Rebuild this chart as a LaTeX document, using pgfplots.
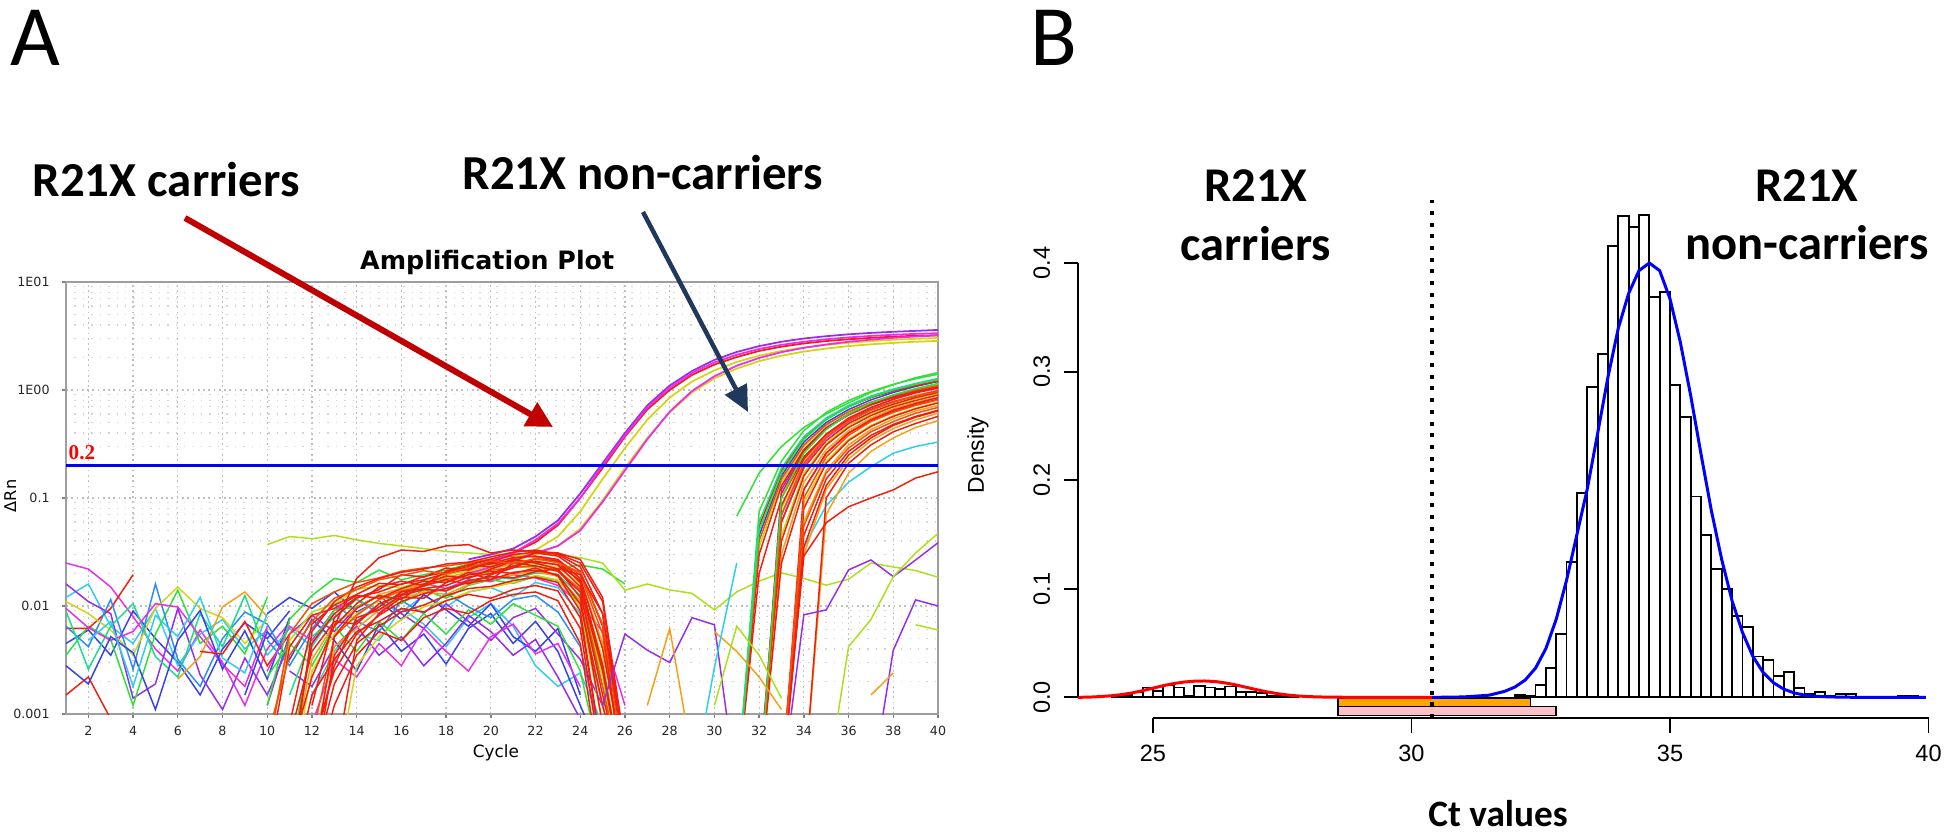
\documentclass[border=0pt]{standalone}
\usepackage{fontspec}
\setmainfont{Carlito}
\newfontfamily\dejavu{DejaVu Sans}
\newfontfamily\lsans{Liberation Sans}
\newfontfamily\lserif{Liberation Serif}
\usepackage{pgfplots}
\pgfplotsset{compat=1.18}
\usetikzlibrary{arrows.meta}

\definecolor{qR}{RGB}{240,30,15}
\definecolor{qRO}{RGB}{245,80,10}
\definecolor{qO}{RGB}{245,160,20}
\definecolor{qY}{RGB}{212,212,20}
\definecolor{qYG}{RGB}{170,225,25}
\definecolor{qG}{RGB}{45,225,55}
\definecolor{qSG}{RGB}{25,220,140}
\definecolor{qC}{RGB}{45,205,235}
\definecolor{qAz}{RGB}{45,140,240}
\definecolor{qB}{RGB}{55,65,235}
\definecolor{qV}{RGB}{150,45,235}
\definecolor{qM}{RGB}{235,45,235}
\definecolor{arrowred}{RGB}{192,0,0}
\definecolor{navyarrow}{RGB}{32,56,92}
\definecolor{boxorange}{RGB}{255,165,0}
\definecolor{boxpink}{RGB}{255,192,203}

\pgfplotsset{
  pR/.style={draw=qR, line width=0.42pt},
  pRO/.style={draw=qRO, line width=0.42pt},
  pO/.style={draw=qO, line width=0.42pt},
  pY/.style={draw=qY, line width=0.42pt},
  pYG/.style={draw=qYG, line width=0.42pt},
  pG/.style={draw=qG, line width=0.42pt},
  pSG/.style={draw=qSG, line width=0.42pt},
  pC/.style={draw=qC, line width=0.42pt},
  pAz/.style={draw=qAz, line width=0.42pt},
  pB/.style={draw=qB, line width=0.42pt},
  pV/.style={draw=qV, line width=0.42pt},
  pM/.style={draw=qM, line width=0.42pt},
}

\begin{document}
\begin{tikzpicture}
\path[use as bounding box] (0,0) rectangle (19.46,8.34);

% ================= Panel A =================
\begin{axis}[
  at={(0.66cm,1.20cm)}, anchor=south west,
  width=87.2mm, height=43.2mm, scale only axis,
  xmin=1, xmax=40, ymin=0.001, ymax=10, ymode=log,
  xtick={2,4,...,40},
  xticklabels={2,4,6,8,10,12,14,16,18,20,22,24,26,28,30,32,34,36,38,40},
  ytick={0.001,0.01,0.1,1,10},
  yticklabels={0.001,0.01,0.1,1E00,1E01},
  minor ytick={0.002,0.003,0.004,0.005,0.006,0.007,0.008,0.009,
    0.02,0.03,0.04,0.05,0.06,0.07,0.08,0.09,
    0.2,0.3,0.4,0.5,0.6,0.7,0.8,0.9,
    2,3,4,5,6,7,8,9},
  xmajorgrids, ymajorgrids, yminorgrids,
  major grid style={dashed, dash pattern=on 0.5pt off 1pt, black!25, line width=0.35pt},
  minor grid style={dotted, black!17, line width=0.3pt},
  axis line style={black!38, line width=0.6pt},
  tick align=outside, xtick pos=left, ytick pos=left,
  major tick length=0.4mm, minor tick length=0pt,
  tick style={black!50, line width=0.4pt},
  ticklabel style={font=\dejavu\fontsize{3.6}{4}\selectfont, text=black!85},
  xticklabel style={yshift=1.2pt},
  xlabel={Cycle},
  xlabel style={at={(axis description cs:0.493,-0.09)}, anchor=center, font=\dejavu\fontsize{4.8}{5}\selectfont},
  ylabel={ΔRn},
  ylabel style={at={(axis description cs:-0.064,0.505)}, anchor=center, font=\dejavu\fontsize{4.6}{5}\selectfont},
  every axis title shift=0pt,
  title={Amplification Plot},
  title style={at={(axis description cs:0.483,1.046)}, anchor=center, font=\dejavu\bfseries\fontsize{7.2}{8}\selectfont},
]
% ---- early noise, cycles 1-11
\addplot[pM] coordinates {(1,0.025)(2,0.022)(3,0.015)(4,0.008)(5,0.004)(6,0.0025)(7,0.006)(8,0.003)(9,0.0012)(10,0.004)(11,0.007)};
\addplot[pB] coordinates {(1,0.0045)(2,0.006)(3,0.0035)(4,0.009)(5,0.005)(6,0.003)(7,0.0015)(8,0.004)(9,0.007)(10,0.005)(11,0.009)};
\addplot[pC] coordinates {(1,0.012)(2,0.016)(3,0.0065)(4,0.0045)(5,0.0095)(6,0.0028)(7,0.0055)(8,0.0075)(9,0.004)(10,0.006)};
\addplot[pV] coordinates {(1,0.016)(2,0.011)(3,0.0085)(4,0.0014)(5,0.0019)(6,0.0095)(7,0.0023)(8,0.0011)(9,0.0033)(10,0.0015)(11,0.0045)};
\addplot[pG] coordinates {(1,0.0035)(2,0.0065)(3,0.0049)(4,0.0012)(5,0.0055)(6,0.014)(7,0.0045)(8,0.0065)(9,0.0036)(10,0.012)};
\addplot[pR] coordinates {(1,0.0062)(2,0.0062)(3,0.0095)(4,0.0195)};
\addplot[pR] coordinates {(1,0.0015)(2,0.0022)(3,0.0009)};
\addplot[pAz] coordinates {(1,0.0065)(2,0.0042)(3,0.0115)(4,0.0026)(5,0.016)(6,0.0032)(7,0.0018)(8,0.005)(9,0.0088)(10,0.0068)(11,0.003)};
\addplot[pY] coordinates {(1,0.011)(2,0.0085)(3,0.006)(4,0.0035)(5,0.0095)(6,0.015)(7,0.0095)(8,0.0078)(9,0.0045)(10,0.0075)};
\addplot[pSG] coordinates {(1,0.009)(2,0.0026)(3,0.0065)(4,0.0105)(5,0.0034)(6,0.0022)(7,0.0085)(8,0.0042)(9,0.0125)(10,0.0035)};
\addplot[pM] coordinates {(1,0.0095)(2,0.0063)(3,0.0048)(4,0.0058)(5,0.0105)(6,0.0098)(7,0.0052)(8,0.0029)(9,0.0018)(10,0.0065)};
\addplot[pO] coordinates {(6,0.0021)(7,0.0034)(8,0.0098)(9,0.0135)(10,0.008)};
\addplot[pB] coordinates {(1,0.0028)(2,0.0019)(3,0.0052)(4,0.0037)(5,0.0011)(6,0.0048)(7,0.0091)(8,0.0026)(9,0.0059)(10,0.0021)(11,0.0078)};
\addplot[pC] coordinates {(2,0.0048)(3,0.0072)(4,0.0018)(5,0.0082)(6,0.0052)(7,0.012)(8,0.0033)(9,0.0024)(10,0.0085)};
\addplot[pR] coordinates {(7,0.0038)(8,0.0036)(9,0.0072)(10,0.0028)(11,0.0055)};
% ---- hump, low zigzag colours
\addplot[pC] coordinates {(10,0.0035)(11,0.0062)(12,0.0042)(13,0.0085)(14,0.0055)(15,0.0048)(16,0.0095)(17,0.0068)(18,0.0042)(19,0.0078)(20,0.0105)(21,0.0065)(22,0.0028)(23,0.0018)(24,0.0024)(25,0.0008)};
\addplot[pC] coordinates {(12,0.0015)(13,0.0038)(14,0.0072)(15,0.0105)(16,0.0088)(17,0.0125)(18,0.0098)(19,0.0135)(20,0.0148)(21,0.0122)(22,0.0165)(23,0.0148)(24,0.0085)(25,0.0012)};
\addplot[pB] coordinates {(9,0.0015)(10,0.0058)(11,0.0032)(12,0.0075)(13,0.0048)(14,0.0025)(15,0.0068)(16,0.0038)(17,0.0055)(18,0.0029)(19,0.0062)(20,0.0085)(21,0.0045)(22,0.0072)(23,0.0038)(24,0.0012)(25,0.0004)};
\addplot[pB] coordinates {(10,0.0085)(11,0.012)(12,0.0095)(13,0.0135)(14,0.0088)(15,0.0112)(16,0.0075)(17,0.0128)(18,0.0092)(19,0.0065)(20,0.0105)(21,0.0052)(22,0.0038)(23,0.0062)(24,0.0015)};
\addplot[pV] coordinates {(10,0.0012)(11,0.0055)(12,0.0082)(13,0.0058)(14,0.0098)(15,0.0125)(16,0.0085)(17,0.0062)(18,0.0105)(19,0.0072)(20,0.0048)(21,0.0078)(22,0.0095)(23,0.0055)(24,0.0032)(25,0.0012)};
\addplot[pV] coordinates {(11,0.0025)(12,0.0018)(13,0.0042)(14,0.0065)(15,0.0035)(16,0.0052)(17,0.0028)(18,0.0045)(19,0.0082)(20,0.0058)(21,0.0035)(22,0.0049)(23,0.0022)(24,0.0009)};
\addplot[pAz] coordinates {(10,0.0048)(11,0.0028)(12,0.0062)(13,0.0105)(14,0.0072)(15,0.0058)(16,0.0112)(17,0.0085)(18,0.0132)(19,0.0098)(20,0.0078)(21,0.0115)(22,0.0125)(23,0.0088)(24,0.0042)(25,0.0005)};
\addplot[pM] coordinates {(10,0.0025)(11,0.0065)(12,0.0048)(13,0.0092)(14,0.0115)(15,0.0085)(16,0.0135)(17,0.0162)(18,0.0145)(19,0.0175)(20,0.0168)(21,0.0195)(22,0.0182)(23,0.0155)(24,0.0105)(25,0.0058)(26,0.0012)};
\addplot[pM] coordinates {(12,0.0008)(13,0.0032)(14,0.0022)(15,0.0045)(16,0.0028)(17,0.0062)(18,0.0038)(19,0.0025)(20,0.0052)(21,0.0068)(22,0.0036)(23,0.0045)(24,0.0018)};
% ---- hump, greens / yellows / oranges
\addplot[pG] coordinates {(10,0.0012)(11,0.0075)(12,0.0125)(13,0.018)(14,0.0165)(15,0.0215)(16,0.0175)(17,0.0195)(18,0.0215)(19,0.0245)(20,0.0235)(21,0.026)(22,0.0245)(23,0.0225)(24,0.024)(25,0.022)(26,0.016)};
\addplot[pG] coordinates {(11,0.0004)(12,0.0045)(13,0.0092)(14,0.0098)(15,0.0125)(16,0.0105)(17,0.0142)(18,0.0118)(19,0.0155)(20,0.0175)(21,0.0162)(22,0.0188)(23,0.0172)(24,0.0105)(25,0.0018)(26,0.0002)};
\addplot[pG] coordinates {(10,0.0022)(11,0.0045)(12,0.0028)(13,0.0065)(14,0.0038)(15,0.0072)(16,0.0048)(17,0.0085)(18,0.0055)(19,0.0092)(20,0.0068)(21,0.0105)(22,0.0082)(23,0.0065)(24,0.0025)(25,0.0003)};
\addplot[pSG] coordinates {(11,0.0015)(12,0.0052)(13,0.0078)(14,0.0115)(15,0.0092)(16,0.0128)(17,0.0145)(18,0.0138)(19,0.0168)(20,0.0185)(21,0.0178)(22,0.0202)(23,0.0195)(24,0.0125)(25,0.0022)(26,0.0003)};
\addplot[pYG] coordinates {(10,0.0005)(11,0.0048)(12,0.0088)(13,0.0105)(14,0.0142)(15,0.0155)(16,0.0148)(17,0.0172)(18,0.0195)(19,0.0212)(20,0.0198)(21,0.023)(22,0.0225)(23,0.021)(24,0.0138)(25,0.0022)(26,0.0002)};
\addplot[pYG] coordinates {(10,0.037)(11,0.044)(12,0.042)(13,0.045)(14,0.041)(15,0.038)(16,0.036)(17,0.034)(18,0.032)(19,0.031)(20,0.03)(21,0.03)(22,0.031)(23,0.03)(24,0.028)(25,0.025)(26,0.014)(27,0.016)(28,0.0141)(29,0.0131)(30,0.0092)(31,0.0135)(32,0.017)(33,0.0203)(34,0.018)(35,0.0156)(36,0.0177)(37,0.025)(38,0.023)(39,0.0213)(40,0.0185)};
\addplot[pY] coordinates {(11,0.0002)(12,0.0025)(13,0.0055)(14,0.0085)(15,0.0112)(16,0.0142)(17,0.0152)(18,0.0172)(19,0.0195)(20,0.0205)(21,0.0235)(22,0.0248)(23,0.0228)(24,0.016)(25,0.0032)(26,0.0002)};
\addplot[pY] coordinates {(13,0.0002)(14,0.0028)(15,0.0052)(16,0.0075)(17,0.0098)(18,0.0112)(19,0.0135)(20,0.0148)(21,0.0165)(22,0.0192)(23,0.0175)(24,0.0098)(25,0.0008)};
\addplot[pO] coordinates {(11,0.0003)(12,0.0032)(13,0.0068)(14,0.0095)(15,0.0128)(16,0.0145)(17,0.016)(18,0.0185)(19,0.0205)(20,0.022)(21,0.0245)(22,0.027)(23,0.0255)(24,0.018)(25,0.0045)(26,0.0003)};
\addplot[pO] coordinates {(12,0.0004)(13,0.0042)(14,0.0062)(15,0.0092)(16,0.0118)(17,0.0135)(18,0.0128)(19,0.0158)(20,0.0178)(21,0.0195)(22,0.021)(23,0.0188)(24,0.0112)(25,0.0012)(26,0.0002)};
\addplot[pRO] coordinates {(12,0.0006)(13,0.0052)(14,0.0082)(15,0.0115)(16,0.0138)(17,0.0152)(18,0.0178)(19,0.0192)(20,0.0215)(21,0.0228)(22,0.0235)(23,0.0215)(24,0.0142)(25,0.0018)(26,0.0002)};
\addplot[pRO] coordinates {(10,0.0004)(11,0.0055)(12,0.0105)(13,0.0135)(14,0.0165)(15,0.0182)(16,0.021)(17,0.0225)(18,0.0235)(19,0.025)(20,0.0272)(21,0.029)(22,0.0285)(23,0.0265)(24,0.0195)(25,0.0055)(26,0.0002)};
% ---- carriers (rise out of the bundle)
\addplot[pV, line width=0.5pt] coordinates {(19,0.027)(20,0.03)(21,0.034)(22,0.044)(23,0.062)(24,0.11)(25,0.21)(26,0.4)(27,0.72)(28,1.1)(29,1.5)(30,1.9)(31,2.25)(32,2.55)(33,2.8)(34,3.0)(35,3.15)(36,3.28)(37,3.38)(38,3.46)(39,3.53)(40,3.6)};
\addplot[pR, line width=0.5pt] coordinates {(19,0.024)(20,0.027)(21,0.031)(22,0.039)(23,0.056)(24,0.1)(25,0.19)(26,0.37)(27,0.66)(28,1.0)(29,1.38)(30,1.72)(31,2.02)(32,2.3)(33,2.52)(34,2.7)(35,2.84)(36,2.95)(37,3.04)(38,3.12)(39,3.18)(40,3.22)};
\addplot[pM, line width=0.5pt] coordinates {(19,0.022)(20,0.026)(21,0.031)(22,0.041)(23,0.058)(24,0.1)(25,0.2)(26,0.38)(27,0.69)(28,1.05)(29,1.44)(30,1.8)(31,2.12)(32,2.4)(33,2.62)(34,2.8)(35,2.95)(36,3.07)(37,3.17)(38,3.25)(39,3.31)(40,3.36)};
\addplot[pY, line width=0.5pt] coordinates {(19,0.021)(20,0.024)(21,0.028)(22,0.033)(23,0.044)(24,0.075)(25,0.15)(26,0.29)(27,0.53)(28,0.85)(29,1.2)(30,1.52)(31,1.82)(32,2.08)(33,2.3)(34,2.47)(35,2.62)(36,2.74)(37,2.84)(38,2.92)(39,2.98)(40,3.03)};
\addplot[pY, line width=0.5pt] coordinates {(19,0.019)(20,0.022)(21,0.026)(22,0.03)(23,0.036)(24,0.052)(25,0.095)(26,0.19)(27,0.36)(28,0.62)(29,0.95)(30,1.28)(31,1.58)(32,1.85)(33,2.08)(34,2.27)(35,2.42)(36,2.55)(37,2.65)(38,2.73)(39,2.8)(40,2.85)};
\addplot[pM, line width=0.5pt] coordinates {(19,0.02)(20,0.023)(21,0.027)(22,0.031)(23,0.036)(24,0.05)(25,0.092)(26,0.18)(27,0.35)(28,0.63)(29,0.98)(30,1.34)(31,1.68)(32,1.98)(33,2.24)(34,2.46)(35,2.64)(36,2.8)(37,2.93)(38,3.04)(39,3.13)(40,3.2)};
% ---- hump, reds on top
\addplot[pR] coordinates {(11,0.0003)(12,0.0045)(13,0.0085)(14,0.012)(15,0.0135)(16,0.016)(17,0.0175)(18,0.02)(19,0.022)(20,0.025)(21,0.028)(22,0.029)(23,0.027)(24,0.018)(25,0.004)(26,0.0003)};
\addplot[pR] coordinates {(12,0.0003)(13,0.0052)(14,0.0095)(15,0.0125)(16,0.0115)(17,0.016)(18,0.019)(19,0.018)(20,0.022)(21,0.026)(22,0.031)(23,0.029)(24,0.021)(25,0.0065)(26,0.0002)};
\addplot[pR] coordinates {(11,0.0004)(12,0.0022)(13,0.0065)(14,0.0105)(15,0.015)(16,0.017)(17,0.0155)(18,0.021)(19,0.024)(20,0.023)(21,0.027)(22,0.025)(23,0.022)(24,0.012)(25,0.0008)(26,0.0002)};
\addplot[pR] coordinates {(12,0.0002)(13,0.0035)(14,0.0072)(15,0.0098)(16,0.0135)(17,0.0145)(18,0.0155)(19,0.0185)(20,0.02)(21,0.0235)(22,0.026)(23,0.024)(24,0.015)(25,0.0025)(26,0.0002)};
\addplot[pR] coordinates {(10,0.0003)(11,0.0042)(12,0.0082)(13,0.0095)(14,0.0125)(15,0.0118)(16,0.0145)(17,0.017)(18,0.0165)(19,0.0195)(20,0.021)(21,0.02)(22,0.0225)(23,0.019)(24,0.009)(25,0.0004)};
\addplot[pR] coordinates {(12,0.0005)(13,0.0025)(14,0.0055)(15,0.0082)(16,0.011)(17,0.013)(18,0.0145)(19,0.0165)(20,0.0175)(21,0.0205)(22,0.0215)(23,0.0195)(24,0.0105)(25,0.0012)(26,0.0002)};
\addplot[pR] coordinates {(11,0.0002)(12,0.0058)(13,0.011)(14,0.015)(15,0.018)(16,0.0205)(17,0.022)(18,0.0245)(19,0.0255)(20,0.0285)(21,0.0315)(22,0.033)(23,0.03)(24,0.023)(25,0.0085)(26,0.0003)};
\addplot[pR] coordinates {(13,0.0003)(14,0.0048)(15,0.0085)(16,0.012)(17,0.0118)(18,0.0165)(19,0.0205)(20,0.0175)(21,0.025)(22,0.0235)(23,0.021)(24,0.0135)(25,0.0015)(26,0.0002)};
\addplot[pR] coordinates {(11,0.0006)(12,0.0038)(13,0.0072)(14,0.0068)(15,0.0105)(16,0.0128)(17,0.0155)(18,0.0175)(19,0.016)(20,0.0195)(21,0.0225)(22,0.0275)(23,0.026)(24,0.0165)(25,0.0028)(26,0.0002)};
\addplot[pR] coordinates {(12,0.0003)(13,0.0019)(14,0.0045)(15,0.0065)(16,0.0088)(17,0.0102)(18,0.0125)(19,0.0145)(20,0.0152)(21,0.0172)(22,0.0185)(23,0.0165)(24,0.0078)(25,0.0004)};
\addplot[pR] coordinates {(12,0.0012)(13,0.0078)(14,0.0118)(15,0.0142)(16,0.0195)(17,0.0185)(18,0.0225)(19,0.0215)(20,0.0255)(21,0.03)(22,0.0315)(23,0.0305)(24,0.025)(25,0.011)(26,0.0004)};
\addplot[pR] coordinates {(13,0.0065)(14,0.018)(15,0.028)(16,0.033)(17,0.032)(18,0.036)(19,0.037)(20,0.031)(21,0.033)(22,0.032)(23,0.031)(24,0.027)(25,0.012)(26,0.0005)};
\addplot[pR] coordinates {(11,0.0002)(12,0.0015)(13,0.0032)(14,0.0058)(15,0.0072)(16,0.0095)(17,0.0088)(18,0.0112)(19,0.0128)(20,0.0118)(21,0.0142)(22,0.0155)(23,0.0138)(24,0.0062)(25,0.0003)};
\addplot[pR] coordinates {(12,0.0002)(13,0.0012)(14,0.0035)(15,0.0058)(16,0.0048)(17,0.0078)(18,0.0095)(19,0.0085)(20,0.0112)(21,0.0128)(22,0.0135)(23,0.0112)(24,0.0045)(25,0.0002)};
\addplot[pR] coordinates {(11,0.0008)(12,0.0068)(13,0.0102)(14,0.0128)(15,0.0162)(16,0.0158)(17,0.0188)(18,0.0205)(19,0.0232)(20,0.0245)(21,0.0265)(22,0.0255)(23,0.0242)(24,0.0172)(25,0.0028)(26,0.0002)};
\addplot[pRO] coordinates {(10,0.0006)(11,0.0035)(12,0.0072)(13,0.0118)(14,0.0142)(15,0.0175)(16,0.0192)(17,0.0212)(18,0.0198)(19,0.0228)(20,0.0262)(21,0.0248)(22,0.0275)(23,0.0252)(24,0.0205)(25,0.0068)(26,0.0003)};
\addplot[pR] coordinates {(12,0.0004)(13,0.0028)(14,0.0078)(15,0.0092)(16,0.0125)(17,0.0142)(18,0.0138)(19,0.0172)(20,0.0188)(21,0.0182)(22,0.0208)(23,0.0222)(24,0.0195)(25,0.0085)(26,0.0004)};
% ---- late amplification, non-carriers
\addplot[pB] coordinates {(31,0.0002)(32,0.045)(33,0.16)(34,0.33)(35,0.5)(36,0.66)(37,0.81)(38,0.95)(39,1.08)(40,1.2)};
\addplot[pAz] coordinates {(32,0.0002)(33,0.07)(34,0.21)(35,0.37)(36,0.53)(37,0.68)(38,0.82)(39,0.95)(40,1.07)};
\addplot[pV] coordinates {(32,0.0002)(33,0.12)(34,0.28)(35,0.45)(36,0.6)(37,0.74)(38,0.87)(39,0.98)(40,1.08)};
\addplot[pM] coordinates {(32,0.0003)(33,0.06)(34,0.2)(35,0.36)(36,0.51)(37,0.65)(38,0.78)(39,0.89)(40,0.99)};
\addplot[pC] coordinates {(33,0.0002)(34,0.035)(35,0.085)(36,0.14)(37,0.195)(38,0.26)(39,0.3)(40,0.33)};
\addplot[pYG] coordinates {(31,0.0002)(32,0.035)(33,0.14)(34,0.3)(35,0.47)(36,0.63)(37,0.77)(38,0.9)(39,1.02)(40,1.13)};
\addplot[pYG] coordinates {(32,0.0002)(33,0.045)(34,0.17)(35,0.32)(36,0.47)(37,0.6)(38,0.72)(39,0.83)(40,0.93)};
\addplot[pY] coordinates {(32,0.0002)(33,0.08)(34,0.22)(35,0.38)(36,0.53)(37,0.66)(38,0.78)(39,0.89)(40,0.98)};
\addplot[pY] coordinates {(33,0.0002)(34,0.09)(35,0.22)(36,0.35)(37,0.47)(38,0.58)(39,0.68)(40,0.77)};
\addplot[pO] coordinates {(32,0.0002)(33,0.03)(34,0.14)(35,0.28)(36,0.42)(37,0.55)(38,0.67)(39,0.77)(40,0.86)};
\addplot[pO] coordinates {(33,0.0002)(34,0.06)(35,0.18)(36,0.31)(37,0.43)(38,0.54)(39,0.64)(40,0.72)};
\addplot[pO] coordinates {(33,0.0003)(34,0.03)(35,0.12)(36,0.23)(37,0.34)(38,0.44)(39,0.53)(40,0.61)};
\addplot[pO] coordinates {(34,0.0002)(35,0.07)(36,0.17)(37,0.27)(38,0.36)(39,0.45)(40,0.52)};
\addplot[pR] coordinates {(31,0.0002)(32,0.055)(33,0.18)(34,0.36)(35,0.54)(36,0.7)(37,0.85)(38,0.98)(39,1.1)(40,1.21)};
\addplot[pR] coordinates {(31,0.0002)(32,0.03)(33,0.13)(34,0.28)(35,0.44)(36,0.59)(37,0.73)(38,0.85)(39,0.96)(40,1.06)};
\addplot[pR] coordinates {(32,0.0002)(33,0.085)(34,0.23)(35,0.39)(36,0.55)(37,0.69)(38,0.82)(39,0.94)(40,1.04)};
\addplot[pR] coordinates {(32,0.0002)(33,0.06)(34,0.19)(35,0.34)(36,0.49)(37,0.62)(38,0.74)(39,0.85)(40,0.95)};
\addplot[pR] coordinates {(32,0.0003)(33,0.04)(34,0.16)(35,0.31)(36,0.45)(37,0.58)(38,0.7)(39,0.8)(40,0.9)};
\addplot[pR] coordinates {(32,0.0002)(33,0.11)(34,0.27)(35,0.44)(36,0.59)(37,0.73)(38,0.86)(39,0.97)(40,1.07)};
\addplot[pR] coordinates {(33,0.0002)(34,0.12)(35,0.26)(36,0.4)(37,0.52)(38,0.63)(39,0.73)(40,0.82)};
\addplot[pR] coordinates {(33,0.0002)(34,0.08)(35,0.21)(36,0.34)(37,0.46)(38,0.57)(39,0.67)(40,0.76)};
\addplot[pR] coordinates {(33,0.0003)(34,0.045)(35,0.15)(36,0.27)(37,0.38)(38,0.48)(39,0.57)(40,0.65)};
\addplot[pR] coordinates {(31,0.0002)(32,0.02)(33,0.1)(34,0.24)(35,0.39)(36,0.53)(37,0.66)(38,0.78)(39,0.88)(40,0.98)};
\addplot[pR] coordinates {(32,0.0002)(33,0.025)(34,0.12)(35,0.26)(36,0.4)(37,0.53)(38,0.65)(39,0.75)(40,0.85)};
\addplot[pR] coordinates {(33,0.0002)(34,0.035)(35,0.13)(36,0.25)(37,0.36)(38,0.47)(39,0.56)(40,0.64)};
\addplot[pR] coordinates {(34,0.0002)(35,0.1)(36,0.21)(37,0.31)(38,0.41)(39,0.49)(40,0.57)};
\addplot[pR] coordinates {(33,0.0002)(34,0.029)(35,0.059)(36,0.083)(37,0.1)(38,0.119)(39,0.153)(40,0.175)};
\addplot[pRO] coordinates {(32,0.0002)(33,0.07)(34,0.21)(35,0.37)(36,0.52)(37,0.65)(38,0.77)(39,0.88)(40,0.97)};
\addplot[pRO] coordinates {(33,0.0002)(34,0.1)(35,0.24)(36,0.38)(37,0.51)(38,0.62)(39,0.72)(40,0.81)};
\addplot[pRO] coordinates {(31,0.0002)(32,0.04)(33,0.15)(34,0.31)(35,0.48)(36,0.63)(37,0.77)(38,0.89)(39,1.0)(40,1.1)};
\addplot[pRO] coordinates {(33,0.0003)(34,0.055)(35,0.17)(36,0.29)(37,0.41)(38,0.51)(39,0.61)(40,0.69)};
\addplot[pG] coordinates {(31,0.068)(32,0.17)(33,0.3)(34,0.45)(35,0.6)(36,0.76)(37,0.95)(38,1.12)(39,1.3)(40,1.45)};
\addplot[pG] coordinates {(31,0.0002)(32,0.075)(33,0.22)(34,0.42)(35,0.62)(36,0.8)(37,0.97)(38,1.13)(39,1.27)(40,1.4)};
\addplot[pG] coordinates {(31,0.0002)(32,0.05)(33,0.17)(34,0.35)(35,0.53)(36,0.7)(37,0.86)(38,1.0)(39,1.13)(40,1.25)};
\addplot[pG] coordinates {(32,0.0002)(33,0.1)(34,0.26)(35,0.43)(36,0.6)(37,0.76)(38,0.9)(39,1.03)(40,1.15)};
\addplot[pSG] coordinates {(31,0.0002)(32,0.06)(33,0.19)(34,0.37)(35,0.55)(36,0.72)(37,0.88)(38,1.02)(39,1.15)(40,1.28)};
% ---- late noise
\addplot[pV] coordinates {(25,0.0012)(26,0.0055)(27,0.0039)(28,0.003)(29,0.0078)(30,0.0067)(31,0.0002)};
\addplot[pV] coordinates {(33,0.0002)(34,0.0083)(35,0.0092)(36,0.0216)(37,0.0267)(38,0.0187)(39,0.0267)(40,0.0385)};
\addplot[pV] coordinates {(37,0.0002)(38,0.0039)(39,0.0114)(40,0.01)};
\addplot[pYG] coordinates {(35,0.0002)(36,0.0042)(37,0.0075)(38,0.0187)(39,0.031)(40,0.047)};
\addplot[pYG] coordinates {(39,0.0067)(40,0.006)};
\addplot[pO] coordinates {(37,0.0015)(38,0.0024)};
\addplot[pO] coordinates {(27,0.0012)(28,0.0062)(29,0.0004)};
\addplot[pO] coordinates {(30,0.0058)(31,0.0038)(32,0.0022)(33,0.0011)};
\addplot[pYG] coordinates {(30,0.0012)(31,0.0065)(32,0.0035)(33,0.0014)};
\addplot[pC] coordinates {(29,0.0002)(30,0.0027)(31,0.025)};
% ---- threshold
\addplot[draw=blue, line width=1.1pt] coordinates {(1,0.2)(40,0.2)};
\node[anchor=base west, inner sep=0, text=red, font=\lserif\bfseries\fontsize{6}{7}\selectfont] at (axis cs:1.09,0.225) {0.2};
\end{axis}

% arrows and big labels
\draw[line width=0.6mm, color=arrowred, -{Triangle[length=2.6mm,width=2.6mm]}] (1.85,6.16) -- (5.53,4.07);
\draw[line width=0.45mm, color=navyarrow, -{Triangle[length=2.6mm,width=2.4mm]}] (6.43,6.22) -- (7.48,4.22);
\node[anchor=base west, inner sep=0, font=\fontsize{24.5}{26}\selectfont] at (0.10,7.68) {A};
\node[anchor=base west, inner sep=0, font=\fontsize{24.5}{26}\selectfont] at (10.30,7.68) {B};
\node[anchor=base west, inner sep=0, font=\bfseries\fontsize{13.9}{16}\selectfont] at (0.32,6.37) {R21X carriers};
\node[anchor=base west, inner sep=0, font=\bfseries\fontsize{13.9}{16}\selectfont] at (4.62,6.44) {R21X non-carriers};
\node[anchor=base, inner sep=0, font=\bfseries\fontsize{13.8}{16}\selectfont] at (12.56,6.32) {R21X};
\node[anchor=base, inner sep=0, font=\bfseries\fontsize{13.8}{16}\selectfont] at (12.56,5.73) {carriers};
\node[anchor=base, inner sep=0, font=\bfseries\fontsize{13.8}{16}\selectfont] at (18.07,6.32) {R21X};
\node[anchor=base, inner sep=0, font=\bfseries\fontsize{13.8}{16}\selectfont] at (18.07,5.74) {non-carriers};

% ================= Panel B =================
\begin{axis}[
  at={(10.78cm,1.16cm)}, anchor=south west,
  width=86.6mm, height=52.34mm, scale only axis,
  xmin=23.55, xmax=40.3, ymin=-0.019, ymax=0.463,
  clip=false,
  axis x line*=bottom, axis y line*=left,
  axis line style={draw=none, -},
  xtick={25,30,35,40}, xticklabels={25,30,35,40},
  ytick={0,0.1,0.2,0.3,0.4}, yticklabels={0.0,0.1,0.2,0.3,0.4},
  tick align=outside, major tick length=1.45mm,
  tick style={black, line width=0.55pt},
  ticklabel style={font=\lsans\fontsize{6.7}{8}\selectfont},
  yticklabel style={xshift=-0.1mm, rotate=90, anchor=south},
  xlabel={Ct values},
  xlabel style={at={(axis description cs:0.485,-0.183)}, anchor=center, font=\bfseries\fontsize{10.6}{12}\selectfont},
  ylabel={Density},
  ylabel style={at={(axis description cs:-0.1155,0.5025)}, anchor=center, font=\lsans\fontsize{6.5}{8}\selectfont},
]
\addplot[ybar interval, fill=white, draw=black, line width=0.5pt] coordinates {
 (24.2,0.0013)(24.4,0.0025)(24.6,0.0045)(24.8,0.009)(25.0,0.006)(25.2,0.011)(25.4,0.009)(25.6,0.0014)
 (25.8,0.0103)(26.0,0.009)(26.2,0.0076)(26.4,0.01)(26.6,0.005)(26.8,0.0046)(27.0,0.004)(27.2,0.0015)
 (27.4,0.002)(27.6,0.001)(27.8,0)};
\addplot[ybar interval, fill=white, draw=black, line width=0.5pt] coordinates {
 (32.0,0.0025)(32.2,0.001)(32.4,0.0112)(32.6,0.027)(32.8,0.0585)(33.0,0.125)(33.2,0.188)(33.4,0.286)
 (33.6,0.316)(33.8,0.416)(34.0,0.443)(34.2,0.433)(34.4,0.444)(34.6,0.3685)(34.8,0.373)(35.0,0.288)
 (35.2,0.258)(35.4,0.185)(35.6,0.1496)(35.8,0.1184)(36.0,0.0999)(36.2,0.0746)(36.4,0.0649)(36.6,0.0376)
 (36.8,0.0341)(37.0,0.0195)(37.2,0.0233)(37.4,0.0089)(37.6,0.0034)(37.8,0.0049)(38.0,0.0015)(38.2,0.003)
 (38.4,0.003)(38.6,0)(38.8,0)(39.0,0)(39.2,0)(39.4,0.0015)(39.6,0.0015)(39.8,0)};
\addplot[draw=black, fill=boxorange, line width=0.5pt] coordinates {(28.58,-0.0009)(32.3,-0.0009)(32.3,-0.0083)(28.58,-0.0083)(28.58,-0.0009)};
\addplot[draw=black, fill=boxpink, line width=0.5pt] coordinates {(28.58,-0.0083)(32.8,-0.0083)(32.8,-0.0166)(28.58,-0.0166)(28.58,-0.0083)};
\addplot[draw=red, line width=0.85pt] coordinates {(23.55,0)(23.8,0.0003)(24.0,0.0008)(24.2,0.0015)(24.4,0.0026)(24.6,0.0041)(24.8,0.0062)(25.0,0.0085)(25.2,0.0108)(25.4,0.0127)(25.6,0.0141)(25.8,0.0149)(26.0,0.0151)(26.2,0.0146)(26.4,0.0133)(26.6,0.0115)(26.8,0.0093)(27.0,0.0071)(27.2,0.0051)(27.4,0.0035)(27.6,0.0022)(27.8,0.0013)(28.0,0.0007)(28.3,0.0003)(28.7,0.0001)(29.2,0)(30.4,0)};
\addplot[draw=blue, line width=0.85pt] coordinates {(30.4,0)(31.0,0.0004)(31.2,0.001)(31.5,0.002)(31.8,0.0055)(32.0,0.0095)(32.2,0.016)(32.4,0.027)(32.6,0.045)(32.8,0.072)(33.0,0.108)(33.2,0.15)(33.4,0.192)(33.6,0.243)(33.8,0.295)(34.0,0.34)(34.2,0.372)(34.4,0.393)(34.6,0.4)(34.8,0.393)(35.0,0.367)(35.2,0.327)(35.4,0.278)(35.6,0.224)(35.8,0.172)(36.0,0.127)(36.2,0.089)(36.4,0.06)(36.6,0.038)(36.8,0.023)(37.0,0.0135)(37.2,0.0076)(37.4,0.0041)(37.6,0.0021)(37.8,0.001)(38.1,0.0004)(38.5,0.0001)(39.0,0)(39.95,0)};
\addplot[draw=black, line width=1.1pt, dash pattern=on 0.4mm off 0.77mm] coordinates {(30.4,-0.019)(30.4,0.458)};
\draw[line width=0.55pt] (axis cs:25,-0.019) -- (axis cs:40,-0.019);
\draw[line width=0.55pt] (axis cs:23.55,0) -- (axis cs:23.55,0.4);
\end{axis}
\end{tikzpicture}
\end{document}
